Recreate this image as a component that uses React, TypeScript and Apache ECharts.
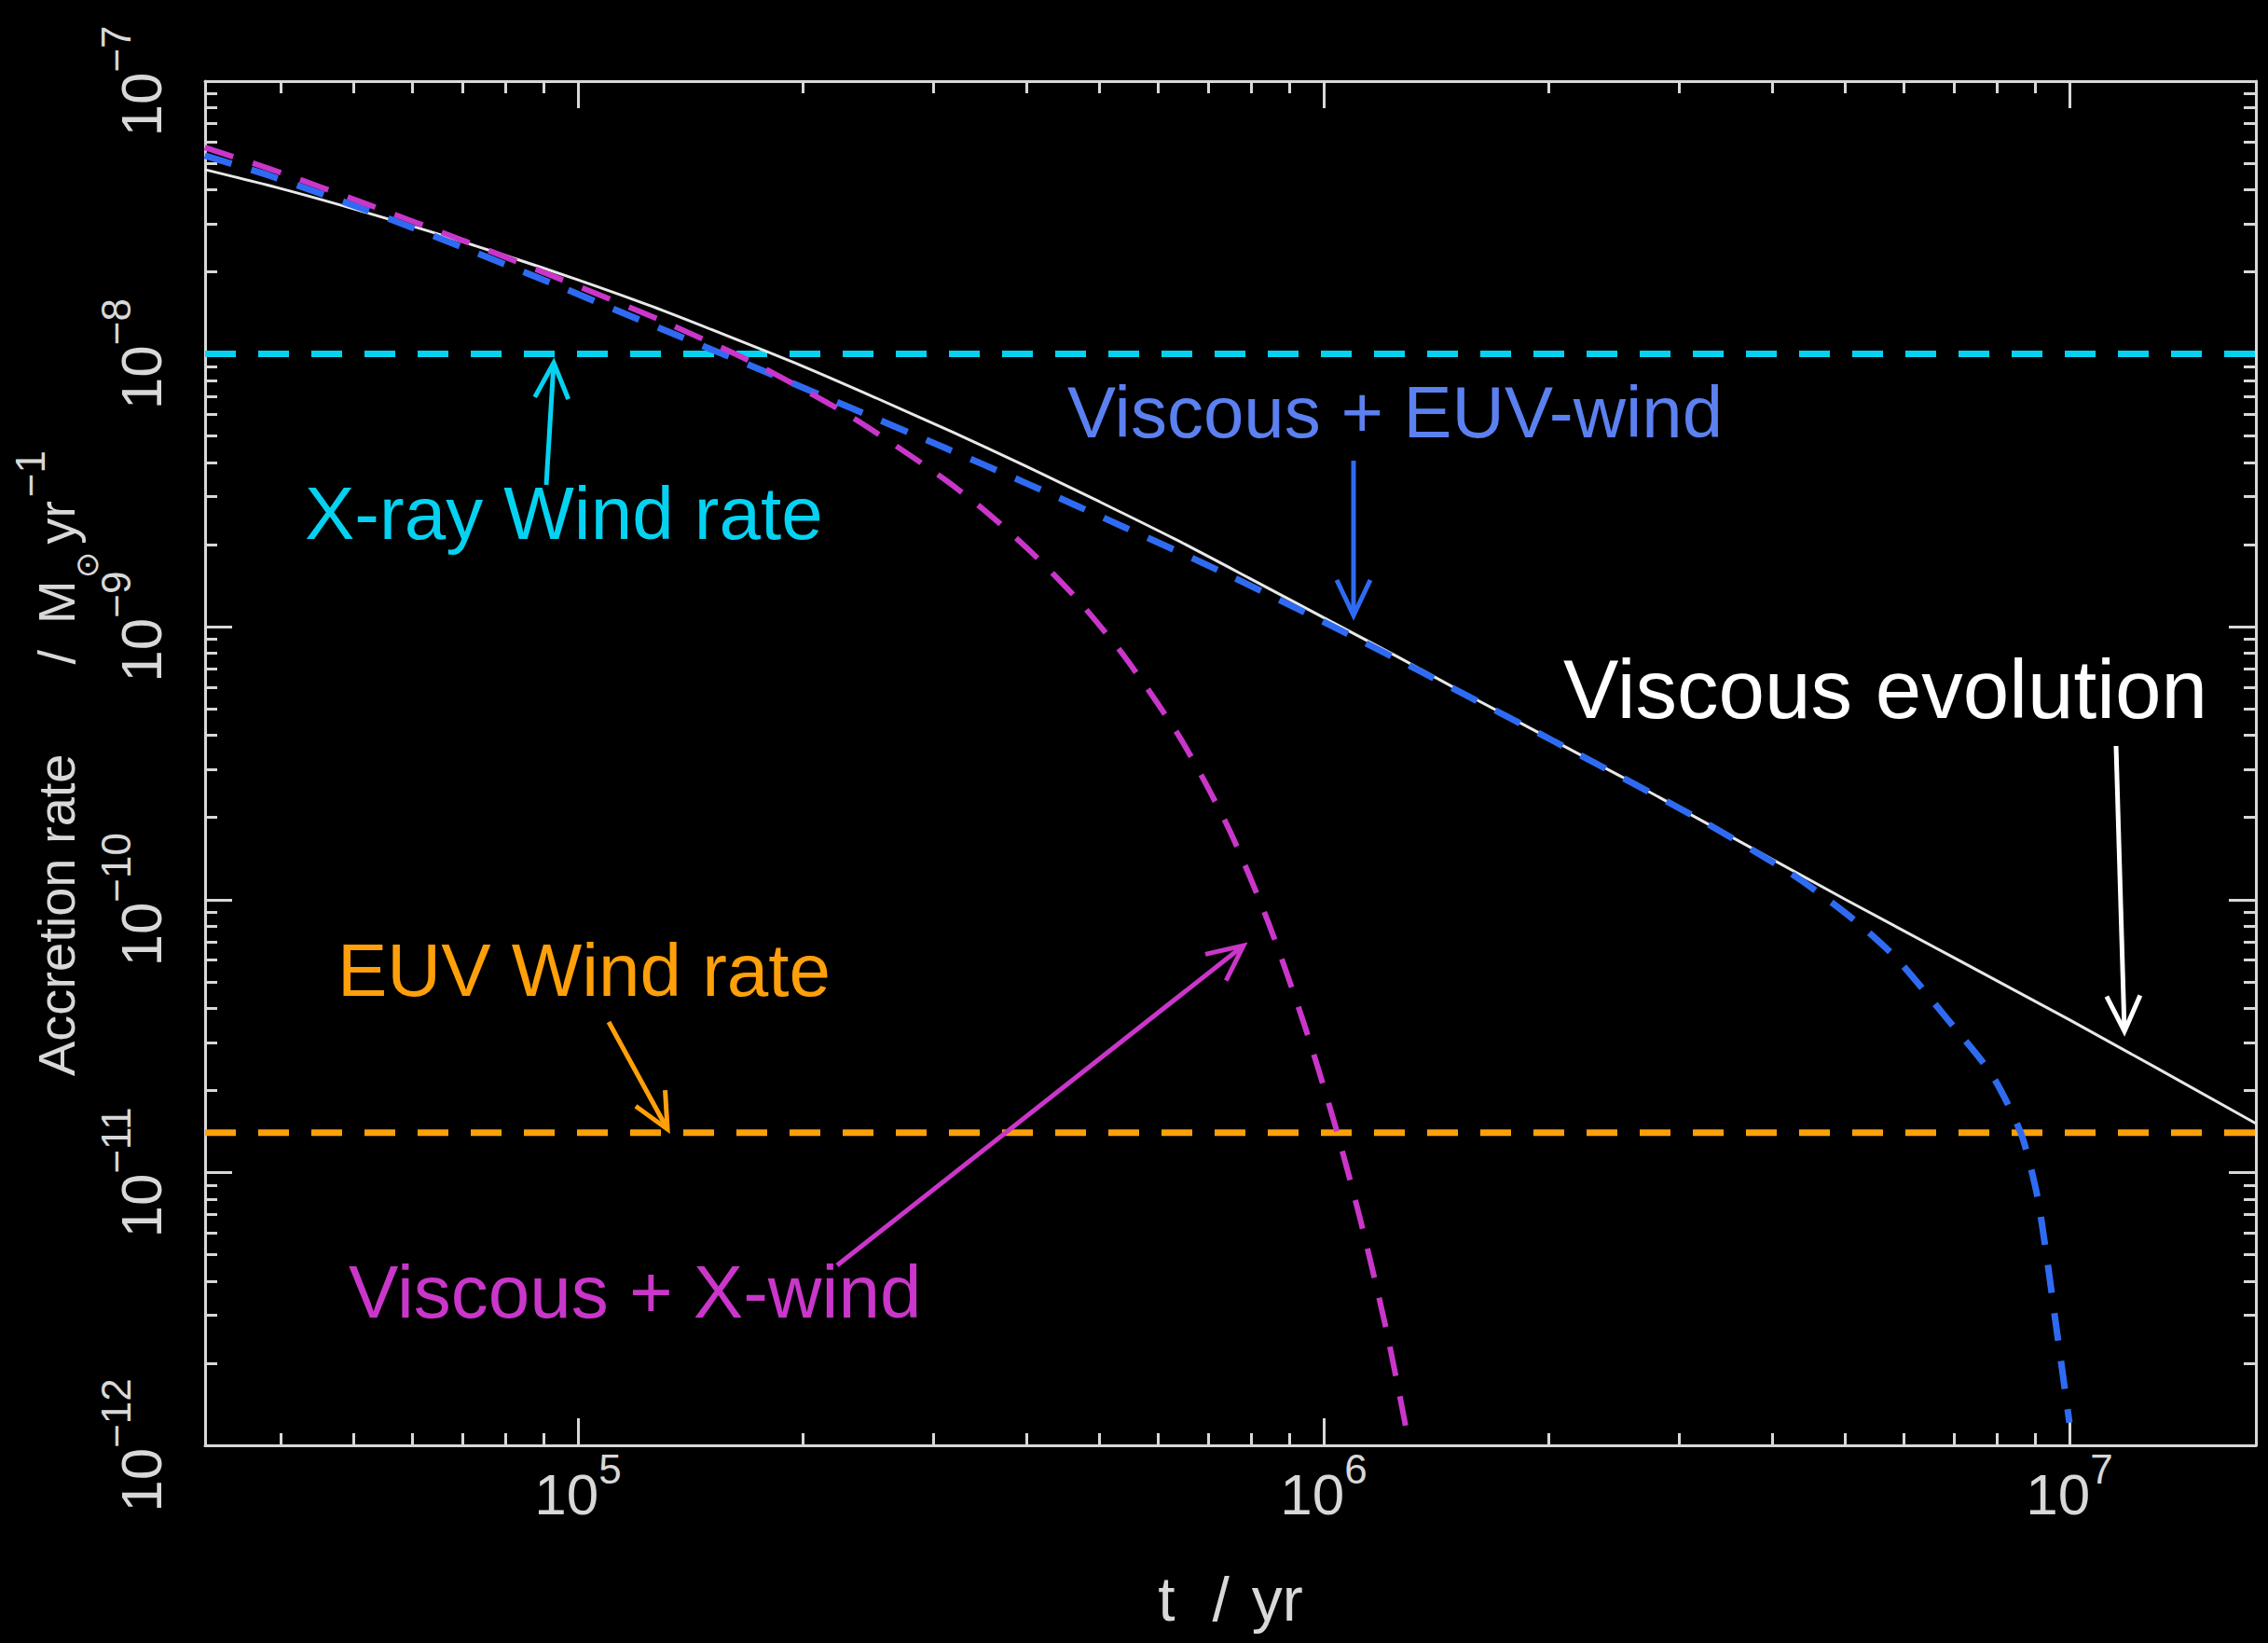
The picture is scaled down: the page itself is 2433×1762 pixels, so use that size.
import React, { useEffect, useRef } from "react";
import * as echarts from "echarts";

// ---------- axis ranges ----------
const X_MIN = 31623; // 10^4.5 yr
const X_MAX = 17782794; // 10^7.25 yr
const Y_MIN = 1e-12;
const Y_MAX = 1e-7;

// ---------- ticks ----------
const xMajorTicks = [1e5, 1e6, 1e7];
const xMinorTicks = [
  4e4, 5e4, 6e4, 7e4, 8e4, 9e4,
  2e5, 3e5, 4e5, 5e5, 6e5, 7e5, 8e5, 9e5,
  2e6, 3e6, 4e6, 5e6, 6e6, 7e6, 8e6, 9e6,
];
const yMinorTicks = [
  2e-12, 3e-12, 4e-12, 5e-12, 6e-12, 7e-12, 8e-12, 9e-12,
  2e-11, 3e-11, 4e-11, 5e-11, 6e-11, 7e-11, 8e-11, 9e-11,
  2e-10, 3e-10, 4e-10, 5e-10, 6e-10, 7e-10, 8e-10, 9e-10,
  2e-9, 3e-9, 4e-9, 5e-9, 6e-9, 7e-9, 8e-9, 9e-9,
  2e-8, 3e-8, 4e-8, 5e-8, 6e-8, 7e-8, 8e-8, 9e-8,
];

// ---------- data (t in yr, accretion rate in Msun/yr) ----------
const viscousT = [
  31600, 39800, 50100, 63100, 79400, 1.0e5, 1.26e5, 1.58e5, 2.0e5, 2.51e5, 3.16e5,
  3.98e5, 5.01e5, 6.31e5, 7.94e5, 1.0e6, 1.26e6, 1.58e6, 2.51e6, 5.01e6, 1.0e7, 1.78e7,
];
const viscousRate = [
  4.74e-8, 4.05e-8, 3.4e-8, 2.82e-8, 2.31e-8, 1.87e-8, 1.49e-8, 1.17e-8, 9.03e-9, 6.9e-9, 5.21e-9,
  3.89e-9, 2.87e-9, 2.1e-9, 1.51e-9, 1.08e-9, 7.73e-10, 5.52e-10, 2.82e-10, 1.0e-10, 3.63e-11, 1.51e-11,
];

const euvT = [
  31600, 38700, 52000, 69700, 94800, 1.29e5, 1.73e5, 2.32e5, 3.03e5, 4.02e5, 5.38e5, 7.23e5, 9.68e5,
  1.3e6, 2.02e6, 3.16e6, 4.17e6, 4.61e6, 5.22e6, 5.87e6, 6.86e6, 7.87e6, 8.61e6, 9.04e6, 9.31e6, 9.57e6, 1.0e7,
];
const euvRate = [
  5.33e-8, 4.49e-8, 3.37e-8, 2.47e-8, 1.76e-8, 1.24e-8, 8.91e-9, 6.35e-9, 4.66e-9, 3.33e-9, 2.33e-9, 1.61e-9, 1.09e-9,
  7.23e-10, 3.85e-10, 2.0e-10, 1.28e-10, 1.06e-10, 8.15e-11, 6.07e-11, 3.65e-11, 2.28e-11, 1.39e-11, 8.38e-12, 5.04e-12, 2.9e-12, 1.21e-12,
];

const xwindT = [
  31600, 38700, 52000, 70800, 94800, 1.29e5, 1.73e5, 2.29e5, 2.99e5, 3.47e5, 4.02e5, 4.65e5,
  5.42e5, 6.44e5, 7.46e5, 8.43e5, 9.42e5, 1.033e6, 1.117e6, 1.213e6, 1.303e6,
];
const xwindRate = [
  5.71e-8, 4.76e-8, 3.55e-8, 2.58e-8, 1.88e-8, 1.33e-8, 9.2e-9, 6.04e-9, 3.73e-9, 2.74e-9, 1.92e-9, 1.28e-9,
  7.71e-10, 3.86e-10, 1.82e-10, 8.24e-11, 3.48e-11, 1.53e-11, 6.9e-12, 2.66e-12, 1.0e-12,
];

const xrayWindRate = 1e-8;
const euvWindRate = 1.4e-11;

// ---------- styles ----------
const AXIS_COLOR = "#d8d8d8";
const TICK_FONT = '"Liberation Sans", Arial, sans-serif';
const TITLE_FONT = '"Liberation Sans", Arial, sans-serif';
const ANN_FONT = '"Liberation Sans", Arial, sans-serif';

const C_WHITE = "#e8e8e8";
const C_CYAN = "#05d2f0";
const C_ORANGE = "#ffa00a";
const C_MAGENTA = "#c936c9";
const C_BLUE = "#2f6bf2";
const C_BLUE_TEXT = "#5b80f0";

const powLabel = (v: number) => {
  const e = Math.round(Math.log10(v));
  const s = e < 0 ? "\u2212" + String(-e) : String(e);
  return `{b|10}{s|${s}}`;
};

const tickRich = {
  b: { fontSize: 62, lineHeight: 80, verticalAlign: "bottom", fontFamily: TICK_FONT, color: AXIS_COLOR },
  s: { fontSize: 44, lineHeight: 26, verticalAlign: "top", fontFamily: TICK_FONT, color: AXIS_COLOR },
};

function pair(ts: number[], vs: number[]) {
  return ts.map((t, i) => [t, vs[i]]);
}

function arrow(x1: number, y1: number, x2: number, y2: number, color: string) {
  const dx = x2 - x1;
  const dy = y2 - y1;
  const len = Math.hypot(dx, dy);
  const ux = dx / len;
  const uy = dy / len;
  const hl = 38;
  const hw = 18;
  const bx = x2 - ux * hl;
  const by = y2 - uy * hl;
  const px = -uy;
  const py = ux;
  return [
    {
      type: "line",
      silent: true,
      z: 100,
      shape: { x1, y1, x2, y2 },
      style: { stroke: color, lineWidth: 5 },
    },
    {
      type: "polyline",
      silent: true,
      z: 100,
      shape: {
        points: [
          [bx + px * hw, by + py * hw],
          [x2, y2],
          [bx - px * hw, by - py * hw],
        ],
      },
      style: { stroke: color, lineWidth: 5, fill: null, lineJoin: "miter" },
    },
  ];
}

function annText(text: string, x: number, y: number, size: number, color: string) {
  return {
    type: "text",
    silent: true,
    z: 100,
    x,
    y,
    style: {
      text,
      fill: color,
      fontSize: size,
      fontFamily: ANN_FONT,
      textAlign: "left",
      textVerticalAlign: "middle",
    },
  };
}

function baseX(position: string, ticks: number[], len: number, extra: any = {}) {
  return {
    type: "log",
    logBase: 10,
    position,
    min: X_MIN,
    max: X_MAX,
    axisLine: { show: true, lineStyle: { color: AXIS_COLOR, width: 3 } },
    axisTick: { show: true, inside: true, length: len, customValues: ticks, lineStyle: { color: AXIS_COLOR, width: 3 } },
    axisLabel: { show: false },
    splitLine: { show: false },
    minorTick: { show: false },
    minorSplitLine: { show: false },
    ...extra,
  };
}

function baseY(position: string, len: number, extra: any = {}) {
  return {
    type: "log",
    logBase: 10,
    position,
    min: Y_MIN,
    max: Y_MAX,
    splitNumber: 5,
    axisLine: { show: true, lineStyle: { color: AXIS_COLOR, width: 3 } },
    axisTick: { show: true, inside: true, length: len, lineStyle: { color: AXIS_COLOR, width: 3 } },
    axisLabel: { show: false },
    splitLine: { show: false },
    minorTick: { show: false },
    minorSplitLine: { show: false },
    ...extra,
  };
}

const curveCommon = {
  type: "line",
  xAxisIndex: 0,
  yAxisIndex: 0,
  showSymbol: false,
  silent: true,
  smooth: 0.25,
};

export default function App() {
  const ref = useRef<HTMLDivElement>(null);

  useEffect(() => {
    if (!ref.current) return;
    const chart = echarts.init(ref.current, undefined, { renderer: "svg" });

    const option: any = {
      animation: false,
      backgroundColor: "#000000",
      grid: {
        left: 220,
        top: 87,
        right: 13,
        bottom: 212,
        containLabel: false,
        outerBoundsMode: "none",
      },
      xAxis: [
        baseX("bottom", xMajorTicks, 29, {
          axisLabel: {
            show: true,
            customValues: xMajorTicks,
            margin: 3,
            formatter: powLabel,
            rich: tickRich,
          },
          name: "{n|t}{g|/}{n|yr}",
          nameLocation: "middle",
          nameGap: 132,
          nameMoveOverlap: false,
          nameTextStyle: {
            rich: {
              n: { fontSize: 66, lineHeight: 66, fontFamily: TITLE_FONT, color: AXIS_COLOR },
              g: { fontSize: 66, lineHeight: 66, fontFamily: TITLE_FONT, color: AXIS_COLOR, padding: [0, 24, 0, 40] },
            },
          },
        }),
        baseX("bottom", xMinorTicks, 13, { axisLine: { show: false } }),
        baseX("top", xMajorTicks, 29),
        baseX("top", xMinorTicks, 13, { axisLine: { show: false } }),
      ],
      yAxis: [
        baseY("left", 29, {
          axisLabel: {
            show: true,
            rotate: 90,
            margin: 38,
            formatter: powLabel,
            rich: tickRich,
          },
          name: "{a|Accretion rate}{sl|/}{a|M}{o|\u2299}{a|yr}{s|\u22121}",
          nameLocation: "middle",
          nameRotate: 90,
          nameGap: 110,
          nameMoveOverlap: false,
          nameTextStyle: {
            rich: {
              a: { fontSize: 56, lineHeight: 100, verticalAlign: "middle", fontFamily: TITLE_FONT, color: AXIS_COLOR },
              sl: { fontSize: 56, lineHeight: 100, verticalAlign: "middle", fontFamily: TITLE_FONT, color: AXIS_COLOR, padding: [0, 28, 0, 96] },
              o: { fontSize: 34, lineHeight: 36, verticalAlign: "bottom", fontFamily: '"DejaVu Sans", sans-serif', color: AXIS_COLOR, padding: [0, 8, 0, 2] },
              s: { fontSize: 44, lineHeight: 40, verticalAlign: "top", fontFamily: TITLE_FONT, color: AXIS_COLOR, padding: [0, 0, 0, 4] },
            },
          },
        }),
        baseY("left", 13, { axisLine: { show: false }, axisTick: { show: true, inside: true, length: 13, customValues: yMinorTicks, lineStyle: { color: AXIS_COLOR, width: 3 } } }),
        baseY("right", 29),
        baseY("right", 13, { axisLine: { show: false }, axisTick: { show: true, inside: true, length: 13, customValues: yMinorTicks, lineStyle: { color: AXIS_COLOR, width: 3 } } }),
      ],
      series: [
        {
          name: "X-ray Wind rate",
          type: "line",
          xAxisIndex: 0,
          yAxisIndex: 0,
          data: [[X_MIN, xrayWindRate], [X_MAX, xrayWindRate]],
          showSymbol: false,
          silent: true,
          z: 2,
          lineStyle: { color: C_CYAN, width: 7, type: [33, 24], cap: "butt" },
        },
        {
          name: "EUV Wind rate",
          type: "line",
          xAxisIndex: 0,
          yAxisIndex: 0,
          data: [[X_MIN, euvWindRate], [X_MAX, euvWindRate]],
          showSymbol: false,
          silent: true,
          z: 2,
          lineStyle: { color: C_ORANGE, width: 7, type: [33, 24], cap: "butt" },
        },
        {
          ...curveCommon,
          name: "Viscous evolution",
          data: pair(viscousT, viscousRate),
          z: 3,
          lineStyle: { color: C_WHITE, width: 3 },
        },
        {
          ...curveCommon,
          name: "Viscous + EUV-wind",
          data: pair(euvT, euvRate),
          z: 4,
          lineStyle: { color: C_BLUE, width: 7, type: [30, 22], cap: "butt" },
        },
        {
          ...curveCommon,
          name: "Viscous + X-wind",
          data: pair(xwindT, xwindRate),
          z: 5,
          lineStyle: { color: C_MAGENTA, width: 6, type: [32, 22], cap: "butt" },
        },
      ],
      graphic: [
        annText("X-ray Wind rate", 327, 550, 80, C_CYAN),
        annText("EUV Wind rate", 362, 1040, 80, C_ORANGE),
        annText("Viscous + X-wind", 374, 1385, 80, C_MAGENTA),
        annText("Viscous + EUV-wind", 1145, 442, 78, C_BLUE_TEXT),
        annText("Viscous evolution", 1677, 739, 89, "#ffffff"),
        ...arrow(586, 520, 594, 389, C_CYAN),
        ...arrow(653, 1096, 716, 1211, C_ORANGE),
        ...arrow(898, 1357, 1334, 1014, C_MAGENTA),
        ...arrow(1452, 494, 1452, 660, C_BLUE),
        ...arrow(2270, 800, 2279, 1106, "#ffffff"),
      ],
    };

    chart.setOption(option);
    return () => {
      chart.dispose();
    };
  }, []);

  return (
    <div
      ref={ref}
      style={{ position: "fixed", left: 0, top: 0, width: 2433, height: 1762, background: "#000" }}
    />
  );
}
